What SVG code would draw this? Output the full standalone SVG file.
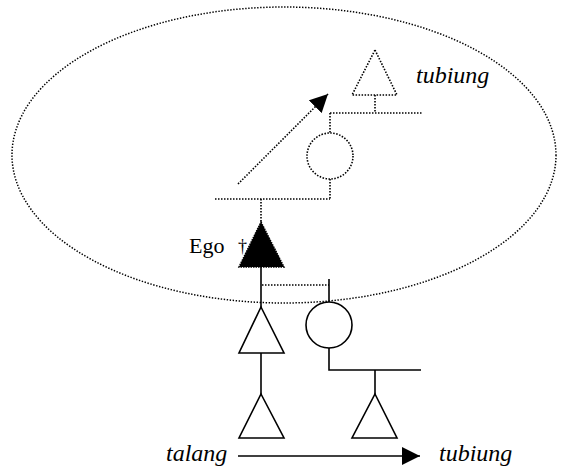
<svg xmlns="http://www.w3.org/2000/svg" width="564" height="476" viewBox="0 0 564 476">
<style>
.dot{fill:none;stroke:#000;stroke-width:1.6;stroke-dasharray:1.5 1.5}
.solid{fill:none;stroke:#000;stroke-width:1.6}
.open{fill:#fff;stroke:#000;stroke-width:1.6}
.lbl{font-family:"Liberation Serif","Times New Roman",serif;font-size:24px;fill:#000}
.it{font-style:italic}
</style>
<defs>
<marker id="ah" markerUnits="userSpaceOnUse" markerWidth="18" markerHeight="18" refX="18" refY="9" orient="auto">
<path d="M0,0 L18,9 L0,18 Z" fill="#000"/>
</marker>
</defs>
<rect width="564" height="476" fill="#fff"/>
<ellipse id="circle-group" cx="284" cy="155" rx="272" ry="148" fill="none" stroke="#000" stroke-width="1.5" stroke-dasharray="1.4 1.6"/>
<g id="connectors">
<line class="dot" x1="375" y1="95" x2="375" y2="113"/>
<line class="dot" x1="330" y1="113" x2="422" y2="113"/>
<line class="dot" x1="330" y1="113" x2="330" y2="133"/>
<line class="dot" x1="330" y1="179" x2="330" y2="199"/>
<line class="dot" x1="215" y1="199" x2="330" y2="199"/>
<line class="dot" x1="261" y1="199" x2="261" y2="222"/>
<line class="dot" x1="238" y1="184" x2="328" y2="94" marker-end="url(#ah)"/>
<line class="solid" x1="261" y1="267" x2="261" y2="307"/>
<line class="dot" x1="262" y1="285" x2="329" y2="285"/>
<line class="solid" x1="329" y1="279" x2="329" y2="302"/>
<line class="solid" x1="261" y1="350" x2="261" y2="394"/>
<polyline class="solid" points="329,348 329,370 421,370"/>
<line class="solid" x1="375" y1="370" x2="375" y2="394"/>
<line class="solid" x1="238" y1="456" x2="420" y2="456" marker-end="url(#ah)"/>
</g>
<g id="top-male">
<polygon class="dot" points="375,50 397,95 352,95"/>
</g>
<g id="top-female">
<circle class="dot" cx="330" cy="156" r="23"/>
</g>
<g id="ego">
<polygon points="261,222 284,267 239,267" fill="#000" stroke="#000" stroke-width="1.5" stroke-dasharray="1.5 1"/>
<text class="lbl" x="189" y="253" style="font-size:22px">Ego</text>
<text class="lbl" x="238" y="252" style="font-size:18px">†</text>
</g>
<g id="male-mid">
<polygon class="open" points="261,307 284,353 239,353"/>
</g>
<g id="female-mid">
<circle class="open" cx="329" cy="325" r="23"/>
</g>
<g id="male-bottom-left">
<polygon class="open" points="261,394 284,438 239,438"/>
</g>
<g id="male-bottom-right">
<polygon class="open" points="375,394 397,438 352,438"/>
</g>
<g id="labels">
<text class="lbl it" x="416" y="83">tubiung</text>
<text class="lbl it" x="166" y="461">talang</text>
<text class="lbl it" x="439" y="461">tubiung</text>
</g>
</svg>
